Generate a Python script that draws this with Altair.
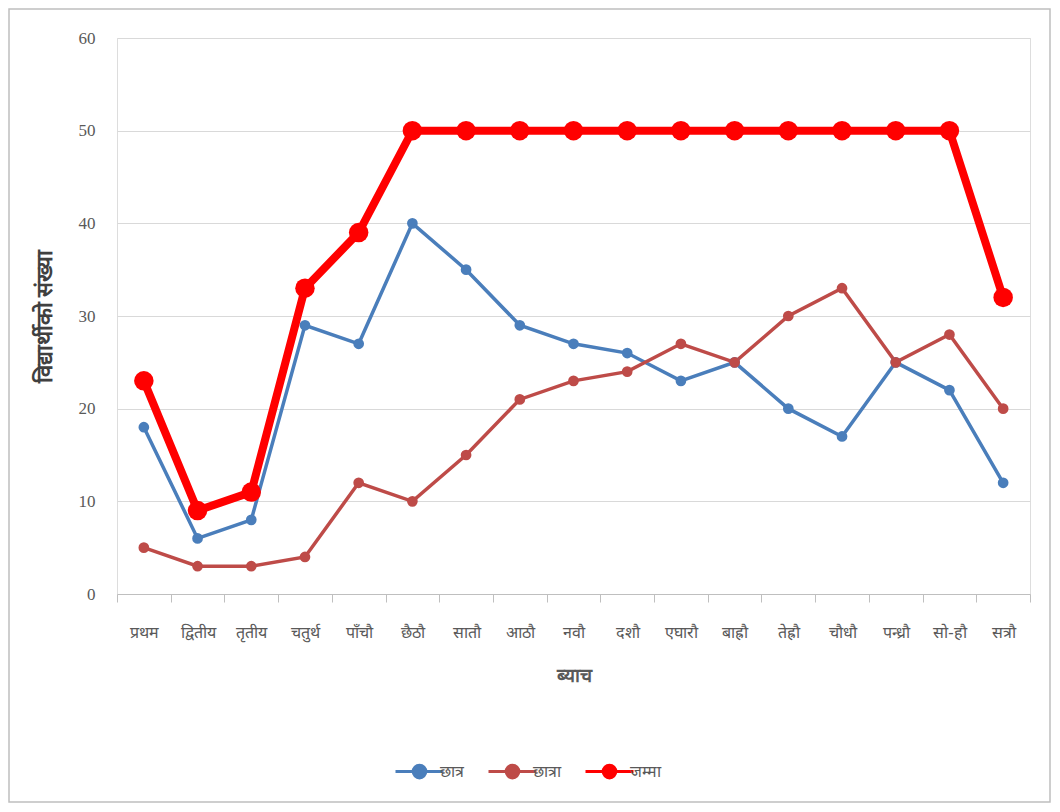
import altair as alt
import pandas as pd

categories = ["प्रथम", "द्वितीय", "तृतीय", "चतुर्थ", "पाँचौ", "छैठौ", "सातौ", "आठौ", "नवौ",
              "दशौ", "एघारौ", "बाह्रौ", "तेह्रौ", "चौधौ", "पन्ध्रौ", "सो-हौ", "सत्रौ"]
chhatra = [18, 6, 8, 29, 27, 40, 35, 29, 27, 26, 23, 25, 20, 17, 25, 22, 12]
chhatra_f = [5, 3, 3, 4, 12, 10, 15, 21, 23, 24, 27, 25, 30, 33, 25, 28, 20]
jamma = [23, 9, 11, 33, 39, 50, 50, 50, 50, 50, 50, 50, 50, 50, 50, 50, 32]

series_names = ["छात्र", "छात्रा", "जम्मा"]
series_colors = ["#4A7EBB", "#BE4B48", "#FF0000"]

rows = []
for name, vals in zip(series_names, [chhatra, chhatra_f, jamma]):
    for c, v in zip(categories, vals):
        rows.append({"batch": c, "count": v, "series": name})
df = pd.DataFrame(rows)

FONT = "Liberation Sans Narrow"

x_enc = alt.X("batch:N", sort=categories,
              scale=alt.Scale(type="band", paddingInner=0, paddingOuter=0),
              axis=alt.Axis(title="ब्याच", tickBand="extent", labelAngle=0,
                            domainColor="#BFBFBF", tickColor="#BFBFBF", tickSize=8,
                            labelColor="#595959", labelFontSize=16, labelPadding=22,
                            titleFontSize=19, titleFontWeight="bold", titleColor="#595959",
                            titlePadding=26, grid=False))
y_enc = alt.Y("count:Q", scale=alt.Scale(domain=[0, 60]),
              axis=alt.Axis(title="विद्यार्थीको संख्या", values=[0, 10, 20, 30, 40, 50, 60],
                            domain=False, ticks=False, gridColor="#D9D9D9",
                            labelColor="#595959", labelFontSize=17, labelPadding=22,
                            titleFontSize=22, titleFontWeight="bold", titleColor="#404040",
                            titlePadding=22))
color_enc = alt.Color("series:N",
                      scale=alt.Scale(domain=series_names, range=series_colors),
                      sort=series_names,
                      legend=alt.Legend(orient="none", legendX=286, legendY=717, direction="horizontal",
                                        title=None,
                                        symbolType="M-1.6,0L1.6,0M0.42,0A0.42,0.42,0,1,1,-0.42,0A0.42,0.42,0,1,1,0.42,0Z",
                                        symbolSize=900, symbolStrokeWidth=3, labelFontSize=16,
                                        labelColor="#595959", columnPadding=18, labelOffset=4))

base = alt.Chart(df).encode(x=x_enc, y=y_enc, color=color_enc)

small = base.transform_filter(alt.datum.series != "जम्मा")
total = base.transform_filter(alt.datum.series == "जम्मा")

small_line = small.mark_line(strokeWidth=3.5)
small_pts = small.mark_point(filled=True, size=115, opacity=1)
total_line = total.mark_line(strokeWidth=8)
total_pts = total.mark_point(filled=True, size=380, opacity=1)

frame = alt.Chart(alt.Data(values=[{}])).mark_rect(fill=None, stroke="#BFBFBF", strokeWidth=1.5).encode(
    x=alt.value(-108), x2=alt.value(933), y=alt.value(-29), y2=alt.value(764)
)

chart = alt.layer(frame, small_line, small_pts, total_line, total_pts).properties(
    width=913, height=556,
    autosize=alt.AutoSizeParams(type="none"),
    padding={"left": 109, "top": 30, "right": 22, "bottom": 210},
).configure_view(stroke=None).configure(font=FONT)

chart.save("out.html", embed_options={"renderer": "svg", "actions": False})
